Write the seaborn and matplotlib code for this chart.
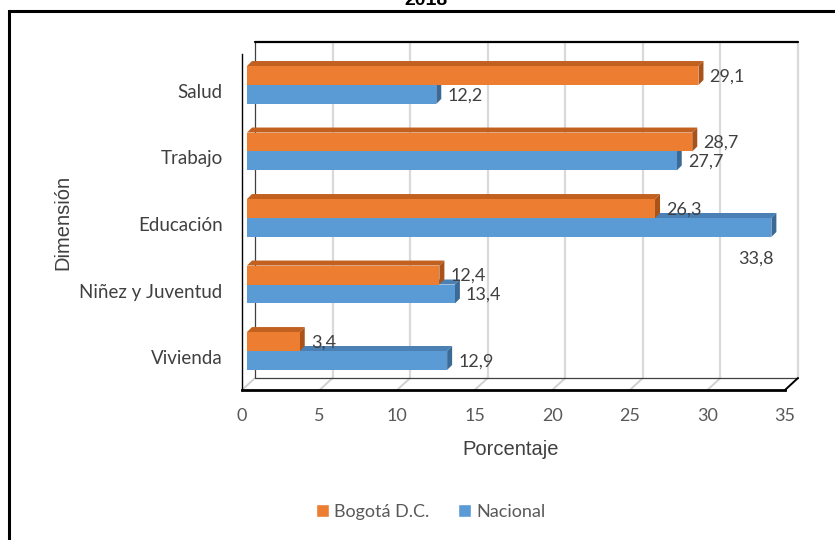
import matplotlib
matplotlib.use("Agg")
import matplotlib.pyplot as plt
import numpy as np
import pandas as pd
import seaborn as sns
from matplotlib.lines import Line2D
from matplotlib.patches import Patch, Polygon, Rectangle
from matplotlib.transforms import IdentityTransform, ScaledTranslation

sns.set_theme(style="white")
plt.rcParams['font.family'] = ['Lato', 'DejaVu Sans']

# data
categories = ["Salud", "Trabajo", "Educación", "Niñez y Juventud", "Vivienda"]
series = ["Bogotá D.C.", "Nacional"]
bogota = [29.1, 28.7, 26.3, 12.4, 3.4]
nacional = [12.2, 27.7, 33.8, 13.4, 12.9]
x_ticks = [0, 5, 10, 15, 20, 25, 30, 35]
title = "2018"

orange = "#ed7d31"
blue = "#5b9bd5"
shade = {orange: ("#C2601F", "#A9521A"), blue: ("#4A80B4", "#3B6A97")}

df = pd.DataFrame({
    "Dimensión": categories * 2,
    "Porcentaje": bogota + nacional,
    "Serie": [series[0]] * len(categories) + [series[1]] * len(categories),
})

fig = plt.figure(figsize=(8.35, 5.4), dpi=100)
ax = fig.add_axes([242 / 835, 1 - 390 / 540, 543 / 835, 336 / 540])

sns.barplot(data=df, y="Dimensión", x="Porcentaje", hue="Serie", orient="h",
            palette=[orange, blue], saturation=1, width=0.57, legend=False, ax=ax)

ax.set_xlim(0, 35)
ax.set_ylim(4.496, -0.556)
ax.set_xticks(x_ticks)
ax.set_xticklabels([str(t) for t in x_ticks])
ax.tick_params(axis="y", length=0, pad=14, labelsize=13.5, labelcolor="#404040")
ax.tick_params(axis="x", length=0, pad=13, labelsize=13, labelcolor="#595959")
ax.grid(False)
ax.set_facecolor("none")
for s in ["top", "right"]:
    ax.spines[s].set_visible(False)
ax.spines["left"].set_color("black")
ax.spines["left"].set_linewidth(1)
ax.spines["bottom"].set_color("black")
ax.spines["bottom"].set_linewidth(2)

ax.set_xlabel("Porcentaje", family="Liberation Sans", fontsize=14.5, color="#404040")
ax.set_ylabel("Dimensión", family="Liberation Sans", fontsize=14.5, color="#404040")
ax.xaxis.set_label_coords((511 - 242) / 543, -0.148)
ax.yaxis.set_label_coords(-0.312, 0.5)

fig.canvas.draw()
I = IdentityTransform()
xt = ax.get_xaxis_transform()
wd, hd = 13, 12  # depth of the walls in pixels


def pt(x, ya, dx=0, dy=0):
    px, py = xt.transform((x, ya))
    return px + dx, py + dy


def seg(p1, p2, **kw):
    ax.add_line(Line2D([p1[0], p2[0]], [p1[1], p2[1]], transform=I, clip_on=False, **kw))


# back wall and floor
for t in x_ticks[1:]:
    seg(pt(t, 0, wd, hd), pt(t, 1, wd, hd), color="#D9D9D9", lw=1.6, zorder=0.5)
for t in x_ticks[:-1]:
    seg(pt(t, 0), pt(t, 0, wd, hd), color="#D0D0D0", lw=1.4, zorder=0.5)
seg(pt(0, 0, wd, hd), pt(0, 1, wd, hd), color="#404040", lw=0.9, zorder=0.6)
seg(pt(0, 1, wd, hd), pt(35, 1, wd, hd), color="black", lw=1.6, zorder=0.6)
seg(pt(0, 0, wd, hd), pt(35, 0, wd, hd), color="#404040", lw=0.9, zorder=0.6)
seg(pt(35, 0), pt(35, 0, wd, hd), color="black", lw=1.4, zorder=0.6)

# 3D bars: shift fronts into the middle of the depth and add top/side faces
bar_shift = ScaledTranslation(5 / 100, 6 / 100, fig.dpi_scale_trans)
bar_trans = ax.transData + bar_shift
bd = 5
bars = list(ax.patches)
for p in bars:
    col = matplotlib.colors.to_hex(p.get_facecolor()).lower()
    top_c, side_c = shade.get(col, ("#777777", "#555555"))
    p.set_transform(bar_trans)
    p.set_zorder(3)
    p.set_edgecolor("none")
    x0, y0 = bar_trans.transform((p.get_x(), p.get_y()))
    x1, y1 = bar_trans.transform((p.get_x() + p.get_width(), p.get_y() + p.get_height()))
    xl, xr = min(x0, x1), max(x0, x1)
    yb, yt = min(y0, y1), max(y0, y1)
    ax.add_patch(Polygon([(xl, yt), (xr, yt), (xr + bd, yt + bd), (xl + bd, yt + bd)],
                         closed=True, transform=I, facecolor=top_c, edgecolor="none",
                         zorder=2, clip_on=False))
    ax.add_patch(Polygon([(xr, yb), (xr, yt), (xr + bd, yt + bd), (xr + bd, yb + bd)],
                         closed=True, transform=I, facecolor=side_c, edgecolor="none",
                         zorder=2.5, clip_on=False))

# value labels
for p in bars:
    v = p.get_width()
    yc = p.get_y() + p.get_height() / 2
    txt = f"{v:.1f}".replace(".", ",")
    if v == max(nacional) and v not in bogota:
        ax.annotate(txt, xy=(v, yc), xycoords=bar_trans,
                    xytext=(-15, -31), textcoords="offset pixels",
                    ha="center", va="center", fontsize=13, color="#404040", zorder=5)
    else:
        ax.annotate(txt, xy=(v, yc), xycoords=bar_trans,
                    xytext=(11, -1), textcoords="offset pixels",
                    ha="left", va="center", fontsize=13, color="#404040", zorder=5)

# legend
handles = [Patch(facecolor=orange), Patch(facecolor=blue)]
fig.legend(handles, series, loc="center", bbox_to_anchor=(431 / 835, 1 - 512 / 540),
           ncol=2, frameon=False, handlelength=0.7, handleheight=0.7,
           handletextpad=0.3, columnspacing=1.6, fontsize=13, labelcolor="#595959")

# chart frame and the cut-off title
fig.add_artist(Rectangle((9 / 835, -0.1), 1.2, 1.1 - 11 / 540, transform=fig.transFigure,
                         fill=False, edgecolor="black", lw=2.2))
fig.text(426 / 835, 1 - 5 / 540, title, ha="center", va="baseline",
         family="Liberation Sans", fontweight="bold", fontsize=14, color="black")

fig.savefig("out.png", dpi=100)
